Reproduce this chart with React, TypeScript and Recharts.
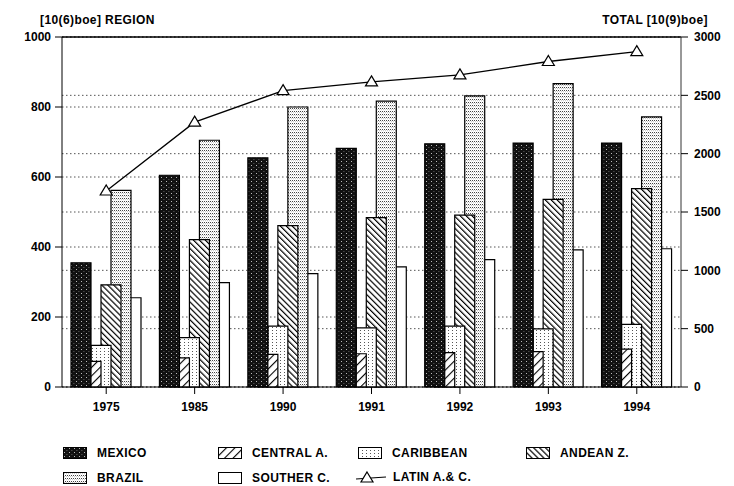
import { ComposedChart, Bar, Line, XAxis, YAxis, CartesianGrid, ReferenceLine } from "recharts";

const years = ["1975", "1985", "1990", "1991", "1992", "1993", "1994"];
const mexico = [355, 605, 655, 682, 695, 697, 697];
const centralA = [73, 83, 93, 95, 98, 101, 108];
const caribbean = [119, 141, 174, 169, 174, 166, 179];
const andeanZ = [292, 421, 461, 484, 491, 536, 567];
const brazil = [562, 705, 800, 817, 832, 867, 772];
const southerC = [255, 298, 324, 343, 364, 392, 395];
const latinAC = [1680, 2270, 2540, 2615, 2675, 2790, 2875];

const leftTicks = [0, 200, 400, 600, 800, 1000];
const rightTicks = [0, 500, 1000, 1500, 2000, 2500, 3000];

const FONT = "'Liberation Sans', Arial, sans-serif";
const PLOT_LEFT = 62;
const PLOT_RIGHT = 681;
const BAND = (PLOT_RIGHT - PLOT_LEFT) / years.length;

// left to right inside each year group; the left bar sits in front
const series = [
  { key: "mexico", name: "MEXICO", fill: "url(#pMexico)" },
  { key: "centralA", name: "CENTRAL A.", fill: "url(#pCentral)" },
  { key: "caribbean", name: "CARIBBEAN", fill: "url(#pCarib)" },
  { key: "andeanZ", name: "ANDEAN Z.", fill: "url(#pAndean)" },
  { key: "brazil", name: "BRAZIL", fill: "url(#pBrazil)" },
  { key: "southerC", name: "SOUTHER C.", fill: "#fff" },
];

const rows = years.map((year, i) => ({
  i,
  year,
  mexico: mexico[i],
  centralA: centralA[i],
  caribbean: caribbean[i],
  andeanZ: andeanZ[i],
  brazil: brazil[i],
  southerC: southerC[i],
  latin: latinAC[i],
}));

const tickStyle = { fontSize: 12, fontWeight: 700, fill: "#000", fontFamily: FONT };

function Triangle(props: any) {
  const { cx, cy } = props;
  if (cx == null || cy == null) return null;
  return (
    <path
      d={`M${cx},${cy - 6} L${cx + 6},${cy + 4} L${cx - 6},${cy + 4} Z`}
      fill="#fff"
      stroke="#000"
      strokeWidth={1.2}
    />
  );
}

function Patterns() {
  return (
    <defs>
      <pattern id="pMexico" width="5" height="4" patternUnits="userSpaceOnUse">
        <rect width="5" height="4" fill="#111" />
        <rect x="1" y="1" width="1" height="1" fill="#bbb" />
        <rect x="3.5" y="3" width="0.8" height="0.8" fill="#888" />
      </pattern>
      <pattern id="pCentral" width="6" height="6" patternUnits="userSpaceOnUse" patternTransform="rotate(45)">
        <rect width="6" height="6" fill="#fff" />
        <line x1="0" y1="0" x2="0" y2="6" stroke="#000" strokeWidth="2.2" />
      </pattern>
      <pattern id="pAndean" width="4.2" height="4.2" patternUnits="userSpaceOnUse" patternTransform="rotate(-45)">
        <rect width="4.2" height="4.2" fill="#fff" />
        <line x1="0" y1="0" x2="0" y2="4.2" stroke="#000" strokeWidth="2.4" />
      </pattern>
      <pattern id="pCarib" width="4" height="3" patternUnits="userSpaceOnUse">
        <rect width="4" height="3" fill="#fff" />
        <rect x="0" y="0" width="1" height="1" fill="#555" />
      </pattern>
      <pattern id="pBrazil" width="2" height="3" patternUnits="userSpaceOnUse">
        <rect width="2" height="3" fill="#fff" />
        <rect x="0" y="0" width="1" height="1" fill="#444" />
        <rect x="1" y="1.5" width="1" height="0.6" fill="#999" />
      </pattern>
    </defs>
  );
}

function Swatch({ fill }: { fill: string }) {
  return (
    <svg width={24} height={12} style={{ display: "block" }}>
      <rect x={0.5} y={0.5} width={23} height={11} fill={fill} stroke="#000" strokeWidth={1} />
    </svg>
  );
}

function LineSwatch() {
  return (
    <svg width={30} height={14} style={{ display: "block" }}>
      <line x1={0} y1={9} x2={30} y2={7} stroke="#000" strokeWidth={1.2} />
      <path d="M11,2 L17,12 L5,12 Z" fill="#fff" stroke="#000" strokeWidth={1.2} />
    </svg>
  );
}

const legendItems = [
  { x: 63, y: 446, label: series[0].name, fill: series[0].fill },
  { x: 218, y: 446, label: series[1].name, fill: series[1].fill },
  { x: 358, y: 446, label: series[2].name, fill: series[2].fill },
  { x: 526, y: 446, label: series[3].name, fill: series[3].fill },
  { x: 63, y: 471, label: series[4].name, fill: series[4].fill },
  { x: 218, y: 471, label: series[5].name, fill: series[5].fill },
];

const textStyle: React.CSSProperties = {
  position: "absolute",
  fontFamily: FONT,
  fontWeight: 700,
  fontSize: 12,
  letterSpacing: 0.4,
  color: "#000",
  whiteSpace: "nowrap",
  lineHeight: "14px",
};

export default function App() {
  return (
    <div style={{ position: "absolute", left: 0, top: 0, width: 734, height: 486, background: "#fff" }}>
      <ComposedChart width={734} height={486} data={rows} margin={{ top: 37, right: 0, bottom: 69, left: 0 }}>
        <Patterns />
        <CartesianGrid xAxisId="main" yAxisId="left" vertical={false} stroke="#555" strokeDasharray="1.5 2.5" />
        <CartesianGrid xAxisId="main" yAxisId="right" vertical={false} stroke="#555" strokeDasharray="1.5 2.5" />
        <XAxis
          xAxisId="main"
          dataKey="year"
          height={30}
          tickSize={7}
          tickMargin={8}
          tick={tickStyle}
          axisLine={{ stroke: "#000" }}
          tickLine={{ stroke: "#000" }}
          interval={0}
        />
        {series.map((s, k) => {
          const a = -0.5 - (k * 10 - 25) / BAND;
          return (
            <XAxis
              key={s.key}
              xAxisId={"s" + k}
              type="number"
              dataKey="i"
              domain={[a, a + years.length]}
              allowDataOverflow
              hide
            />
          );
        })}
        <YAxis
          yAxisId="left"
          width={PLOT_LEFT}
          domain={[0, 1000]}
          ticks={leftTicks}
          tickSize={7}
          tickMargin={4}
          tick={tickStyle}
          axisLine={{ stroke: "#000" }}
          tickLine={{ stroke: "#000" }}
        />
        <YAxis
          yAxisId="right"
          orientation="right"
          width={734 - PLOT_RIGHT}
          domain={[0, 3000]}
          ticks={rightTicks}
          tickSize={7}
          tickMargin={6}
          tick={tickStyle}
          axisLine={{ stroke: "#333" }}
          tickLine={{ stroke: "#000" }}
        />
        <ReferenceLine yAxisId="left" xAxisId="main" y={1000} stroke="#000" strokeWidth={1.3} />
        {series
          .map((s, k) => (
            <Bar
              key={s.key}
              xAxisId={"s" + k}
              yAxisId="left"
              dataKey={s.key}
              name={s.name}
              barSize={20}
              fill={s.fill}
              stroke="#000"
              strokeWidth={1.2}
              isAnimationActive={false}
            />
          ))
          .reverse()}
        <Line
          xAxisId="main"
          yAxisId="right"
          dataKey="latin"
          name="LATIN A.& C."
          stroke="#000"
          strokeWidth={1.3}
          dot={<Triangle />}
          activeDot={false}
          isAnimationActive={false}
        />
      </ComposedChart>

      <div style={{ ...textStyle, left: 40, top: 13 }}>[10(6)boe] REGION</div>
      <div style={{ ...textStyle, right: 26, top: 13 }}>TOTAL [10(9)boe]</div>

      {legendItems.map((it) => (
        <div key={it.label} style={{ position: "absolute", left: it.x, top: it.y, display: "flex", alignItems: "center" }}>
          <Swatch fill={it.fill} />
          <span style={{ ...textStyle, position: "static", marginLeft: 10 }}>{it.label}</span>
        </div>
      ))}
      <div style={{ position: "absolute", left: 356, top: 470, display: "flex", alignItems: "center" }}>
        <LineSwatch />
        <span style={{ ...textStyle, position: "static", marginLeft: 7 }}>LATIN A.& C.</span>
      </div>
    </div>
  );
}
